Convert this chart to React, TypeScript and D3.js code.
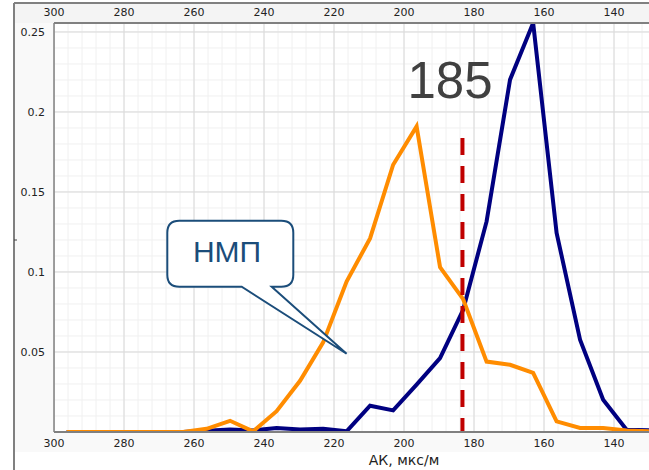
import React from "react";
import * as d3 from "d3";

const binCenters = [296.4, 289.7, 283.1, 276.4, 269.7, 263.1, 256.4, 249.7, 243.1, 236.4, 229.7, 223.1, 216.4, 209.7, 203.1, 196.4, 189.7, 183.1, 176.4, 169.7, 163.1, 156.4, 149.7, 143.1, 136.4, 129.7];
const nmpValues = [0, 0, 0, 0, 0, 0, 0.002, 0.007, 0.0004, 0.013, 0.032, 0.056, 0.094, 0.121, 0.167, 0.191, 0.103, 0.083, 0.044, 0.042, 0.037, 0.0066, 0.0025, 0.0025, 0.001, 0.0004];
const otherValues = [0, 0, 0, 0, 0, 0, 0.0008, 0.0015, 0.001, 0.0025, 0.0015, 0.002, 0.0004, 0.0164, 0.0135, 0.0296, 0.0462, 0.0764, 0.1316, 0.2202, 0.2556, 0.1244, 0.0577, 0.0202, 0.0014, 0.001];
const xTicks = [300, 280, 260, 240, 220, 200, 180, 160, 140];
const yTicks = [0.05, 0.1, 0.15, 0.2, 0.25];
const cutoffValue = 183.3;
const cutoffLabel = "185";
const calloutLabel = "НМП";
const xTitle = "АК, мкс/м";

const W = 649, H = 470;
const L = 54, R = 649, T = 23, B = 432;

export default function App() {
  const x = d3.scaleLinear().domain([300, 130]).range([L, R]);
  const y = d3.scaleLinear().domain([0, 0.2556]).range([B, T]);
  const line = d3.line<number>().x((_, i) => x(binCenters[i])).y((v) => y(v));
  const minorX = d3.range(300, 129, -4);
  const minorY = d3.range(0, 0.2556, 0.01);
  const font = "'DejaVu Sans', Verdana, sans-serif";
  const calloutColor = "#1b4d7a";
  const bx0 = 167.3, bx1 = 293.3, by0 = 220.7, by1 = 286.7, r = 12;
  const tip = [x(216.4), y(0.0489)];
  const calloutPath = `M ${bx0 + r} ${by0} H ${bx1 - r} Q ${bx1} ${by0} ${bx1} ${by0 + r} V ${by1 - r} Q ${bx1} ${by1} ${bx1 - r} ${by1} H 271.7 L ${tip[0]} ${tip[1]} L 241.7 ${by1} H ${bx0 + r} Q ${bx0} ${by1} ${bx0} ${by1 - r} V ${by0 + r} Q ${bx0} ${by0} ${bx0 + r} ${by0} Z`;
  return (
    <svg width={W} height={H} style={{ position: "fixed", left: 0, top: 0, background: "#fff" }}>
      <defs>
        <clipPath id="plot"><rect x={L} y={T} width={R - L} height={B - T} /></clipPath>
      </defs>
      <rect x={15} y={4} width={W - 15} height={T - 4} fill="#f4f4f4" />
      <rect x={15} y={T} width={L - 15} height={B - T + 20} fill="#f9f9f9" />
      <rect x={L} y={B} width={W - L} height={20} fill="#f9f9f9" />
      <rect x={L} y={T} width={R - L} height={B - T} fill="#fff" />
      <g clipPath="url(#plot)">
        {minorX.map((v) => <line key={"mx" + v} x1={x(v)} x2={x(v)} y1={T} y2={B} stroke="#f0f0f0" strokeWidth={1} />)}
        {minorY.map((v, i) => <line key={"my" + i} x1={L} x2={R} y1={y(v)} y2={y(v)} stroke="#f0f0f0" strokeWidth={1} />)}
        {xTicks.map((v) => <line key={"gx" + v} x1={x(v)} x2={x(v)} y1={T} y2={B} stroke="#dadada" strokeWidth={1} />)}
        {yTicks.map((v) => <line key={"gy" + v} x1={L} x2={R} y1={y(v)} y2={y(v)} stroke="#dadada" strokeWidth={1} />)}
        <path d={line(otherValues) || ""} fill="none" stroke="#000080" strokeWidth={4} strokeLinejoin="miter" />
        <path d={line(nmpValues) || ""} fill="none" stroke="#ff8c00" strokeWidth={4} strokeLinejoin="miter" />
        <line x1={x(cutoffValue)} x2={x(cutoffValue)} y1={138} y2={B} stroke="#c00000" strokeWidth={4} strokeDasharray="17 11" />
      </g>
      <text x={450} y={98} fontFamily="'Liberation Sans', Arial, sans-serif" fontSize={51} fill="#404040" textAnchor="middle">{cutoffLabel}</text>
      <path d={calloutPath} fill="#fff" stroke={calloutColor} strokeWidth={2} />
      <text x={227} y={261.7} fontFamily="'Liberation Sans', Arial, sans-serif" fontSize={30} fill={calloutColor} textAnchor="middle">{calloutLabel}</text>
      <line x1={14} x2={14} y1={3} y2={H} stroke="#808080" strokeWidth={2} />
      <line x1={14} x2={W} y1={3} y2={3} stroke="#808080" strokeWidth={2} />
      <line x1={L} x2={R} y1={T} y2={T} stroke="#808080" strokeWidth={2} />
      <line x1={L} x2={R} y1={B} y2={B} stroke="#808080" strokeWidth={2} />
      <line x1={L} x2={L} y1={T} y2={B} stroke="#808080" strokeWidth={1.5} />
      <line x1={14} x2={17} y1={240} y2={240} stroke="#404040" strokeWidth={1} />
      {xTicks.map((v) => (
        <g key={"tx" + v}>
          <text x={x(v)} y={15.7} fontFamily={font} fontSize={11} fill="#222" textAnchor="middle">{v}</text>
          <text x={x(v)} y={446.7} fontFamily={font} fontSize={11} fill="#222" textAnchor="middle">{v}</text>
        </g>
      ))}
      {yTicks.map((v) => (
        <text key={"ty" + v} x={45} y={y(v)} dy="0.35em" fontFamily={font} fontSize={11} fill="#222" textAnchor="end">{String(v)}</text>
      ))}
      <text x={404} y={465} fontFamily={font} fontSize={14} fill="#222" textAnchor="middle">{xTitle}</text>
    </svg>
  );
}
